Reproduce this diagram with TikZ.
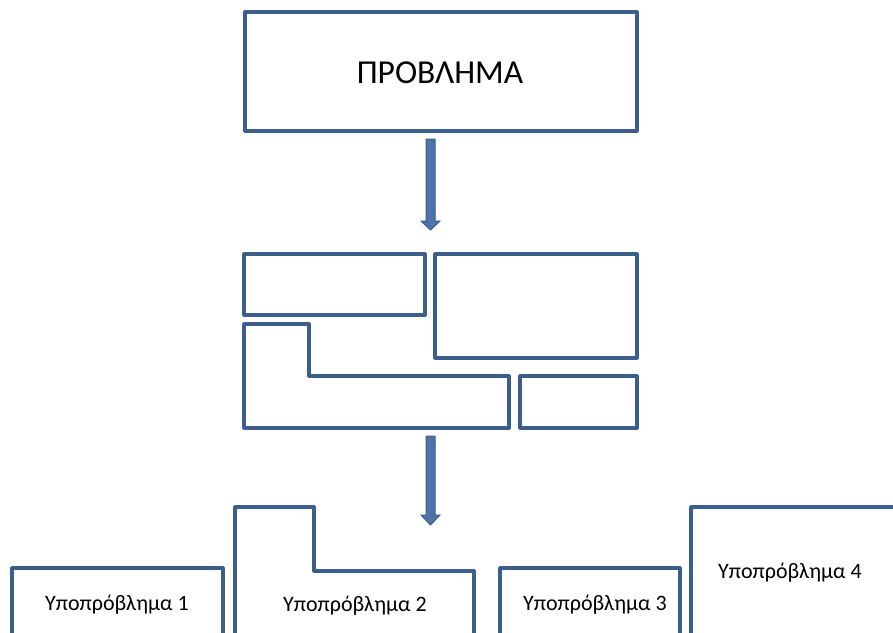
\documentclass[tikz,border=0pt]{standalone}
\usepackage{fontspec}
\setmainfont{Carlito}
\definecolor{edge}{HTML}{3B5E8C}
\definecolor{arrowfill}{HTML}{4A74AA}
\begin{document}
\begin{tikzpicture}[x=1pt,y=-1pt,
  box/.style={draw=edge,line width=3.2pt,line join=round},
  blockarrow/.style={fill=arrowfill,draw=edge,line width=1pt,line join=miter},
  bigtext/.style={font=\fontsize{33.5}{38}\selectfont},
  subtext/.style={font=\fontsize{22}{26}\selectfont}]
\useasboundingbox (0,0) rectangle (893,632);
\clip (0,0) rectangle (893,632);
% top problem box
\draw[box] (245,12) rectangle (637,131);
\node[bigtext] (prob) at (440,73) {ΠΡΟΒΛΗΜΑ};
% arrow 1
\draw[blockarrow] (426,139) -- (435,139) -- (435,221) -- (440,221) -- (430.5,230) -- (421,221) -- (426,221) -- cycle;
% middle puzzle pieces
\draw[box] (244,254) rectangle (425,315);
\draw[box] (435,254) rectangle (637,358);
\draw[box] (244,324) -- (309,324) -- (309,376) -- (509,376) -- (509,428) -- (244,428) -- cycle;
\draw[box] (520,376) rectangle (637,428);
% arrow 2
\draw[blockarrow] (426,436) -- (435,436) -- (435,515) -- (440,515) -- (430.5,525) -- (421,515) -- (426,515) -- cycle;
% bottom sub-problems
\draw[box] (12,645) -- (12,568) -- (223,568) -- (223,645);
\draw[box] (235,645) -- (235,507) -- (314,507) -- (314,571) -- (474,571) -- (474,645);
\draw[box] (500,645) -- (500,568) -- (680,568) -- (680,645);
\draw[box] (691,645) -- (691,507) -- (905,507);
\node[subtext] (s1) at (117,605) {Υποπρόβλημα 1};
\node[subtext] (s2) at (355,606) {Υποπρόβλημα 2};
\node[subtext] (s3) at (595,605) {Υποπρόβλημα 3};
\node[subtext] (s4) at (790,573) {Υποπρόβλημα 4};
\end{tikzpicture}
\end{document}
